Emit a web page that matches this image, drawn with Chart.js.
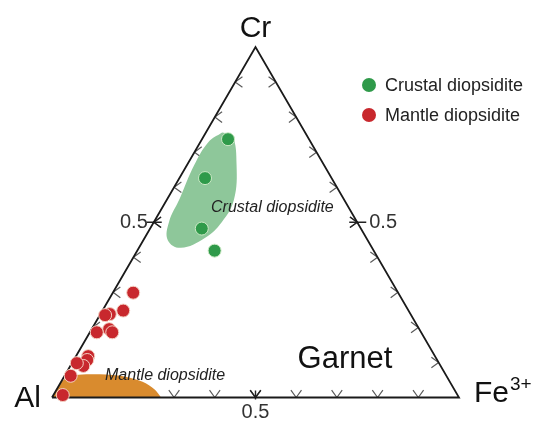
<!DOCTYPE html>
<html>
<head>
<meta charset="utf-8">
<script src="https://cdn.jsdelivr.net/npm/chart.js@4"></script>
<style>
  html, body { margin: 0; padding: 0; background: #fff; }
  #chart { display: block; }
</style>
</head>
<body>
<canvas id="chart" width="550" height="434"></canvas>
<script>
// ternary values: Cr and Fe3+ fractions (Al = 1 - Cr - Fe)
var crustalCr = [0.737, 0.626, 0.482, 0.419];
var crustalFe = [0.064, 0.063, 0.127, 0.190];

var mantleCr = [0.299, 0.248, 0.238, 0.235, 0.195, 0.186, 0.186, 0.118, 0.107, 0.090, 0.098, 0.062, 0.007];
var mantleFe = [0.050, 0.051, 0.023, 0.013, 0.043, 0.055, 0.017, 0.030, 0.033, 0.032, 0.012, 0.015, 0.023];

// outline of the crustal field
var crustalFieldCr = [0.756, 0.748, 0.663, 0.564, 0.501, 0.455, 0.427, 0.449, 0.501, 0.569, 0.663, 0.729, 0.756];
var crustalFieldFe = [0.040, 0.069, 0.122, 0.165, 0.167, 0.148, 0.103, 0.060, 0.037, 0.030, 0.018, 0.020, 0.040];

// outline of the mantle field
var mantleFieldCr = [0, 0.024, 0.050, 0.064, 0.066, 0.060, 0.045, 0.022, 0];
var mantleFieldFe = [0, 0, 0.003, 0.025, 0.085, 0.148, 0.200, 0.242, 0.268];

var tickValues = [0.1, 0.2, 0.3, 0.4, 0.5, 0.6, 0.7, 0.8, 0.9];
var tickLabel = '0.5';

var seriesNames = ['Crustal diopsidite', 'Mantle diopsidite'];
var fieldNames = ['Crustal diopsidite', 'Mantle diopsidite'];

var greenDot = '#2f9a4a';
var redDot = '#c8282d';

function toXY(cr, fe) {
    return { x: fe + cr / 2, y: cr };
}
function zipXY(crs, fes) {
    return crs.map(function (c, i) { return toXY(c, fes[i]); });
}

var FONT = '"Liberation Sans", Arial, sans-serif';

var ternaryDecor = {
    id: 'ternaryDecor',
    beforeDatasetsDraw: function (chart) {
        var ctx = chart.ctx;
        var xs = chart.scales.x, ys = chart.scales.y;
        var px = function (cr, fe) {
            var p = toXY(cr, fe);
            return [xs.getPixelForValue(p.x), ys.getPixelForValue(p.y)];
        };
        var chev = function (ax, ay, dx, dy) {
            var a = 36 * Math.PI / 180, len = 9;
            ctx.beginPath();
            [-a, a].forEach(function (t) {
                var ex = ax + len * (dx * Math.cos(t) - dy * Math.sin(t));
                var ey = ay + len * (dx * Math.sin(t) + dy * Math.cos(t));
                ctx.moveTo(ax, ay);
                ctx.lineTo(ex, ey);
            });
            ctx.stroke();
        };
        ctx.save();
        ctx.strokeStyle = '#5a5a5a';
        ctx.lineWidth = 1.2;
        tickValues.forEach(function (v) {
            var b = px(0, v);
            chev(b[0], b[1], 0, -1);
            var l = px(v, 0);
            chev(l[0], l[1], 1, 0);
            var r = px(v, 1 - v);
            chev(r[0], r[1], -1, 0);
            if (v.toFixed(1) === tickLabel) {
                ctx.strokeStyle = '#222';
                ctx.lineWidth = 1.4;
                ctx.beginPath();
                ctx.moveTo(b[0], b[1] - 7); ctx.lineTo(b[0], b[1] + 2);
                ctx.moveTo(l[0] - 7, l[1]); ctx.lineTo(l[0] + 8, l[1]);
                ctx.moveTo(r[0] - 8, r[1]); ctx.lineTo(r[0] + 9, r[1]);
                ctx.stroke();
                chev(b[0], b[1], 0, -1);
                chev(l[0], l[1], 1, 0);
                chev(r[0], r[1], -1, 0);
                ctx.strokeStyle = '#5a5a5a';
                ctx.lineWidth = 1.2;

                ctx.fillStyle = '#333';
                ctx.font = '20px ' + FONT;
                ctx.textBaseline = 'middle';
                ctx.textAlign = 'right';
                ctx.fillText(tickLabel, l[0] - 6, l[1]);
                ctx.textAlign = 'left';
                ctx.fillText(tickLabel, r[0] + 12, r[1]);
                ctx.textAlign = 'center';
                ctx.fillText(tickLabel, b[0], b[1] + 15);
            }
        });
        ctx.restore();
    },
    afterDatasetsDraw: function (chart) {
        var ctx = chart.ctx;
        var xs = chart.scales.x, ys = chart.scales.y;
        var px = function (cr, fe) {
            var p = toXY(cr, fe);
            return [xs.getPixelForValue(p.x), ys.getPixelForValue(p.y)];
        };
        ctx.save();
        ctx.fillStyle = '#111';
        ctx.textBaseline = 'middle';

        // corner labels
        ctx.font = '30px ' + FONT;
        var top = px(1, 0), al = px(0, 0), fe = px(0, 1);
        ctx.textAlign = 'center';
        ctx.fillText('Cr', top[0], top[1] - 18);
        ctx.textAlign = 'right';
        ctx.fillText('Al', al[0] - 11, al[1] + 1);
        ctx.textAlign = 'left';
        ctx.fillText('Fe', fe[0] + 15, fe[1] - 4);
        var feW = ctx.measureText('Fe').width;
        ctx.font = '19px ' + FONT;
        ctx.fillText('3+', fe[0] + 16 + feW, fe[1] - 13);

        // field names
        ctx.font = '31px ' + FONT;
        ctx.textAlign = 'center';
        ctx.fillText('Garnet', 345, 359);
        ctx.font = 'italic 16px ' + FONT;
        ctx.fillStyle = '#222';
        ctx.textAlign = 'left';
        ctx.fillText(fieldNames[0], 211, 208);
        ctx.fillText(fieldNames[1], 105, 376);

        // legend
        var colors = [greenDot, redDot];
        ctx.font = '18px ' + FONT;
        seriesNames.forEach(function (name, i) {
            var y = 85 + i * 30;
            ctx.beginPath();
            ctx.arc(369, y, 7, 0, Math.PI * 2);
            ctx.fillStyle = colors[i];
            ctx.fill();
            ctx.fillStyle = '#222';
            ctx.fillText(name, 385, y + 1);
        });
        ctx.restore();
    }
};

var ctx = document.getElementById('chart').getContext('2d');
var myChart = new Chart(ctx, {
    type: 'scatter',
    data: {
        datasets: [
            {
                label: seriesNames[1],
                data: zipXY(mantleCr, mantleFe),
                backgroundColor: redDot,
                borderColor: '#f4d2c4',
                borderWidth: 1,
                pointRadius: 6.5,
                clip: false,
                order: 0
            },
            {
                label: seriesNames[0],
                data: zipXY(crustalCr, crustalFe),
                backgroundColor: greenDot,
                borderColor: '#cdeac6',
                borderWidth: 1,
                pointRadius: 6.5,
                clip: false,
                order: 1
            },
            {
                type: 'line',
                label: 'frame',
                data: [toXY(0, 0), toXY(0, 1), toXY(1, 0), toXY(0, 0)],
                borderColor: '#1a1a1a',
                borderWidth: 1.8,
                pointRadius: 0,
                fill: false,
                tension: 0,
                clip: false,
                order: 2
            },
            {
                type: 'line',
                label: 'crustal field',
                data: zipXY(crustalFieldCr, crustalFieldFe),
                borderColor: 'rgba(0,0,0,0)',
                backgroundColor: '#8ec79a',
                borderWidth: 0,
                pointRadius: 0,
                fill: 'shape',
                tension: 0.4,
                clip: false,
                order: 3
            },
            {
                type: 'line',
                label: 'mantle field',
                data: zipXY(mantleFieldCr, mantleFieldFe),
                borderColor: 'rgba(0,0,0,0)',
                backgroundColor: '#d98b2e',
                borderWidth: 0,
                pointRadius: 0,
                fill: 'origin',
                tension: 0.3,
                clip: false,
                order: 4
            }
        ]
    },
    options: {
        responsive: false,
        animation: false,
        layout: { padding: { left: 52, right: 91, top: 47, bottom: 36.5 } },
        scales: {
            x: { type: 'linear', min: 0, max: 1, display: false },
            y: { type: 'linear', min: 0, max: 1, display: false }
        },
        plugins: {
            legend: { display: false },
            tooltip: { enabled: false }
        }
    },
    plugins: [ternaryDecor]
});
</script>
</body>
</html>
